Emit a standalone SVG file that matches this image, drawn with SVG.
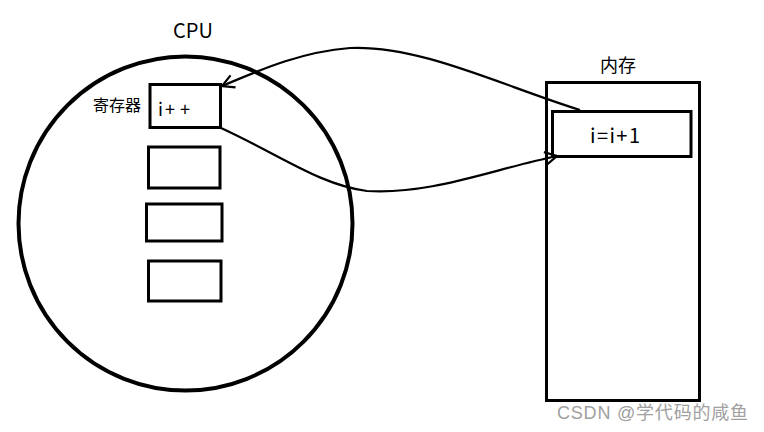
<svg xmlns="http://www.w3.org/2000/svg" width="764" height="432" viewBox="0 0 764 432">
<style>
.box{fill:none;stroke:#000;stroke-width:3}
.conn{fill:none;stroke:#000;stroke-width:2.2}
.t{font-family:"Microsoft YaHei","Noto Sans CJK SC",sans-serif;fill:#000}
</style>
<defs>
<marker id="ah" markerWidth="16" markerHeight="16" refX="13" refY="8" orient="auto" markerUnits="userSpaceOnUse">
<path d="M1,1.5 L13,8 L1,14.5" fill="none" stroke="#000" stroke-width="2.2"/>
</marker>
</defs>
<rect width="764" height="432" fill="#fff"/>
<g id="cpu">
<circle cx="185.5" cy="223.5" r="167" fill="none" stroke="#000" stroke-width="4"/>
<text class="t" x="173" y="38" font-size="20">CPU</text>
</g>
<g id="reg1">
<rect class="box" x="150" y="84.5" width="70.5" height="43"/>
<text class="t" x="93" y="111" font-size="16">寄存器</text>
<text class="t" y="116" font-size="18"><tspan x="158">i</tspan><tspan x="165">+</tspan><tspan x="180">+</tspan></text>
</g>
<g id="reg2"><rect class="box" x="148.5" y="147" width="71.5" height="41"/></g>
<g id="reg3"><rect class="box" x="146.5" y="204" width="75.5" height="37"/></g>
<g id="reg4"><rect class="box" x="148.5" y="261" width="72.5" height="40"/></g>
<g id="memory">
<rect class="box" x="546.5" y="82.5" width="153" height="318"/>
<text class="t" x="600" y="72" font-size="18">内存</text>
</g>
<g id="cell">
<rect class="box" x="552.5" y="111.5" width="138.5" height="45"/>
<text class="t" x="590" y="143" font-size="20" textLength="50" lengthAdjust="spacing">i=i+1</text>
</g>
<g id="connectors">
<path class="conn" d="M580,110 C500,85 420,45 350,48 C300,52 260,70 222,86" marker-end="url(#ah)"/>
<path class="conn" d="M221,128 C280,155 320,185 367,191 C430,195 490,170 557,156" marker-end="url(#ah)"/>
</g>
<text x="557" y="419" font-size="18" font-family="Arial,'Liberation Sans','Noto Sans CJK SC',sans-serif" fill="#a0a0a0" textLength="191" lengthAdjust="spacing">CSDN @学代码的咸鱼</text>
</svg>
